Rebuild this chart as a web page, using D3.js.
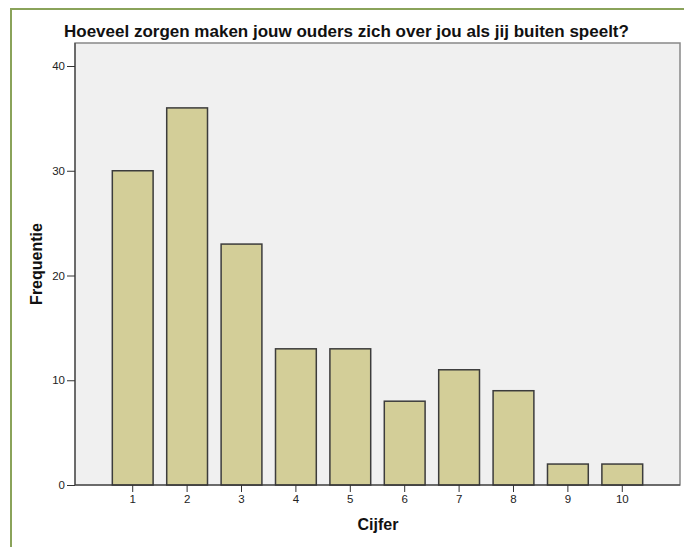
<!DOCTYPE html>
<html>
<head>
<script src="https://d3js.org/d3.v7.min.js"></script>
<style>
body { margin: 0; background: #fff; }
.axis text { font-family: "Liberation Sans", Arial, sans-serif; font-size: 11.5px; fill: #222; }
.axis path, .axis line { stroke: #333; }
</style>
</head>
<body>
<div id="container"></div>
<script>

var categories = ["1", "2", "3", "4", "5", "6", "7", "8", "9", "10"];
var counts = [30, 36, 23, 13, 13, 8, 11, 9, 2, 2];
var yTicks = [0, 10, 20, 30, 40];

var svg = d3.select("#container").append("svg")
    .attr("width", 684)
    .attr("height", 547);

// olive outer frame (left + top visible)
svg.append("path")
    .attr("d", "M11,547 L11,9 L684,9")
    .attr("fill", "none")
    .attr("stroke", "#8aa35a")
    .attr("stroke-width", 2);

var plotLeft = 75, plotRight = 680, plotTop = 43, plotBottom = 485;

var x = d3.scaleBand().domain(categories).range([plotLeft, plotRight])
    .paddingInner(0.25).paddingOuter(0.686);
var y = d3.scaleLinear().domain([0, 40]).range([plotBottom, 66]);

// plot background
svg.append("rect")
    .attr("x", plotLeft).attr("y", plotTop)
    .attr("width", plotRight - plotLeft).attr("height", plotBottom - plotTop)
    .attr("fill", "#f0f0f0")
    .attr("stroke", "#888")
    .attr("stroke-width", 1.5);

svg.selectAll(".bar")
    .data(counts)
  .enter().append("rect")
    .attr("class", "bar")
    .attr("x", function(d, i) { return x(categories[i]); })
    .attr("y", function(d) { return y(d); })
    .attr("width", x.bandwidth())
    .attr("height", function(d) { return plotBottom - y(d); })
    .attr("fill", "#d3ce98")
    .attr("stroke", "#3c3c3c")
    .attr("stroke-width", 1.5);

svg.append("g")
    .attr("class", "axis")
    .attr("transform", "translate(" + plotLeft + ",0)")
    .call(d3.axisLeft(y).tickValues(yTicks).tickSize(8).tickSizeOuter(0).tickPadding(2))
    .call(function(g) { g.select(".domain").attr("d", "M0," + plotTop + "V" + plotBottom); });

svg.append("g")
    .attr("class", "axis")
    .attr("transform", "translate(0," + plotBottom + ")")
    .call(d3.axisBottom(x).tickSize(7).tickSizeOuter(0).tickPadding(3))
    .call(function(g) { g.select(".domain").attr("d", "M" + plotLeft + ",0H" + plotRight); });

svg.append("text")
    .attr("x", 64).attr("y", 37)
    .attr("font-family", "Liberation Sans, Arial, sans-serif")
    .attr("font-size", "17px")
    .attr("font-weight", "bold")
    .attr("fill", "#111")
    .text("Hoeveel zorgen maken jouw ouders zich over jou als jij buiten speelt?");

svg.append("text")
    .attr("transform", "translate(42,264) rotate(-90)")
    .attr("text-anchor", "middle")
    .attr("font-family", "Liberation Sans, Arial, sans-serif")
    .attr("font-size", "16px")
    .attr("font-weight", "bold")
    .attr("fill", "#111")
    .text("Frequentie");

svg.append("text")
    .attr("x", 378).attr("y", 530)
    .attr("text-anchor", "middle")
    .attr("font-family", "Liberation Sans, Arial, sans-serif")
    .attr("font-size", "16px")
    .attr("font-weight", "bold")
    .attr("fill", "#111")
    .text("Cijfer");

</script>
</body>
</html>
